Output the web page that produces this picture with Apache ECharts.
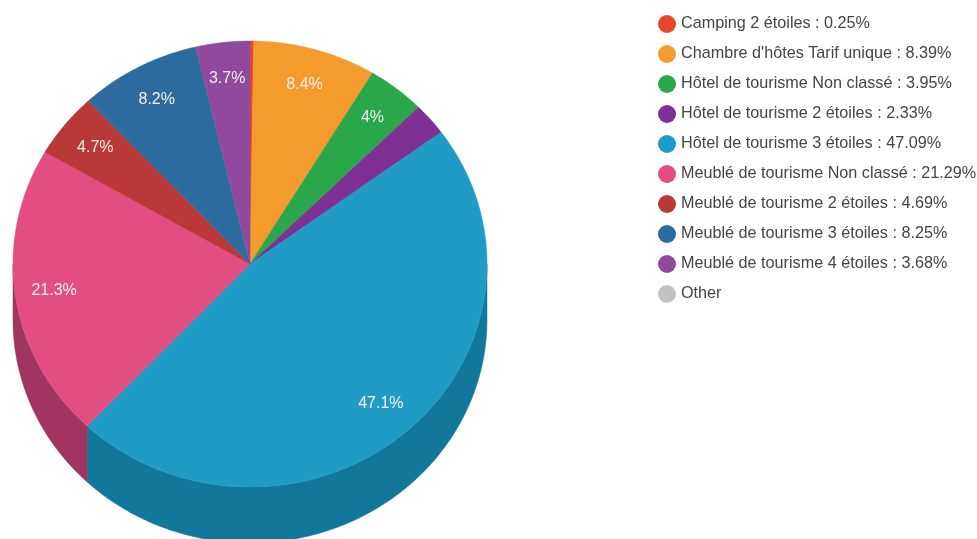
<!DOCTYPE html>
<html><head><meta charset="utf-8">
<style>html,body{margin:0;padding:0;background:#fff}#c{width:977px;height:539px}</style>
<script src="https://cdn.jsdelivr.net/npm/echarts@6/dist/echarts.min.js"></script>
</head><body><div id="c"></div>
<script>
const categories = ["Camping 2 étoiles","Chambre d'hôtes Tarif unique","Hôtel de tourisme Non classé","Hôtel de tourisme 2 étoiles","Hôtel de tourisme 3 étoiles","Meublé de tourisme Non classé","Meublé de tourisme 2 étoiles","Meublé de tourisme 3 étoiles","Meublé de tourisme 4 étoiles","Other"];
const values = [0.25,8.39,3.95,2.33,47.09,21.29,4.69,8.25,3.68,0];
const sliceLabels = ["","8.4%","4%","","47.1%","21.3%","4.7%","8.2%","3.7%",""];
const colors = ["#e4472a","#f59a2c","#2aa64b","#7e3095","#1f9bc6","#e34e82","#b93838","#2c6b9f","#8f4a9e","#c2c2c2"];
const wallColors = ["#a83420","#b87220","#1f7c38","#5e2470","#12789b","#9f3560","#8a2a2a","#204f76","#6a3776","#909090"];

const CX = 250, CY = 264, RX = 237, RY = 223, DEPTH = 56, LABEL_K = 0.835;
const total = values.reduce((a,b)=>a+b,0);
const legendName = i => values[i] > 0 ? categories[i] + " : " + values[i].toFixed(2) + "%" : categories[i];
const pt = (a, dy) => [CX + RX*Math.sin(a), CY - RY*Math.cos(a) + (dy||0)];

function arc(a0, a1, dy){
  const n = Math.max(2, Math.ceil(Math.abs(a1-a0)/0.01));
  const out = [];
  for(let k=0;k<=n;k++) out.push(pt(a0+(a1-a0)*k/n, dy));
  return out;
}
function renderSlice(index){
  return function(params, api){
    const v = api.value(0);
    if(!(v>0)) return {type:'group',children:[]};
    let before = 0; for(let i=0;i<index;i++) before += values[i];
    const a0 = before/total*2*Math.PI, a1 = (before+v)/total*2*Math.PI;
    const children = [];
    const w0 = Math.max(a0, Math.PI/2), w1 = Math.min(a1, 3*Math.PI/2);
    if(w1 > w0){
      const pts = arc(w0,w1,0).concat(arc(w1,w0,DEPTH));
      children.push({type:'polygon',shape:{points:pts},style:{fill:wallColors[index],stroke:wallColors[index],lineWidth:0.5}});
    }
    children.push({type:'polygon',shape:{points:[[CX,CY]].concat(arc(a0,a1,0))},style:{fill:colors[index],stroke:colors[index],lineWidth:0.5}});
    if(sliceLabels[index]){
      const m=(a0+a1)/2;
      children.push({type:'text',z2:10,style:{x:CX+RX*LABEL_K*Math.sin(m),y:CY-RY*LABEL_K*Math.cos(m),text:sliceLabels[index],fill:'#f4f1ee',font:'16px "Liberation Sans", Arial, sans-serif',align:'center',verticalAlign:'middle'}});
    }
    return {type:'group',children};
  };
}
const chart = echarts.init(document.getElementById('c'),null,{renderer:'canvas'});
chart.setOption({
  animation:false,
  backgroundColor:'#fff',
  color:colors,
  legend:{
    orient:'vertical',left:658,top:15,padding:0,itemWidth:18,itemHeight:18,itemGap:12,icon:'circle',
    selectedMode:false,
    data:categories.map((c,i)=>legendName(i)),
    textStyle:{color:'#444',fontSize:16.2,fontFamily:'"Liberation Sans", Arial, sans-serif',padding:[2,0,0,0]}
  },
  series:categories.map((c,i)=>({
    type:'custom',name:legendName(i),coordinateSystem:'none',
    itemStyle:{color:colors[i]},
    data:[[values[i]]],
    renderItem:renderSlice(i),
    clip:false
  }))
});
</script></body></html>
